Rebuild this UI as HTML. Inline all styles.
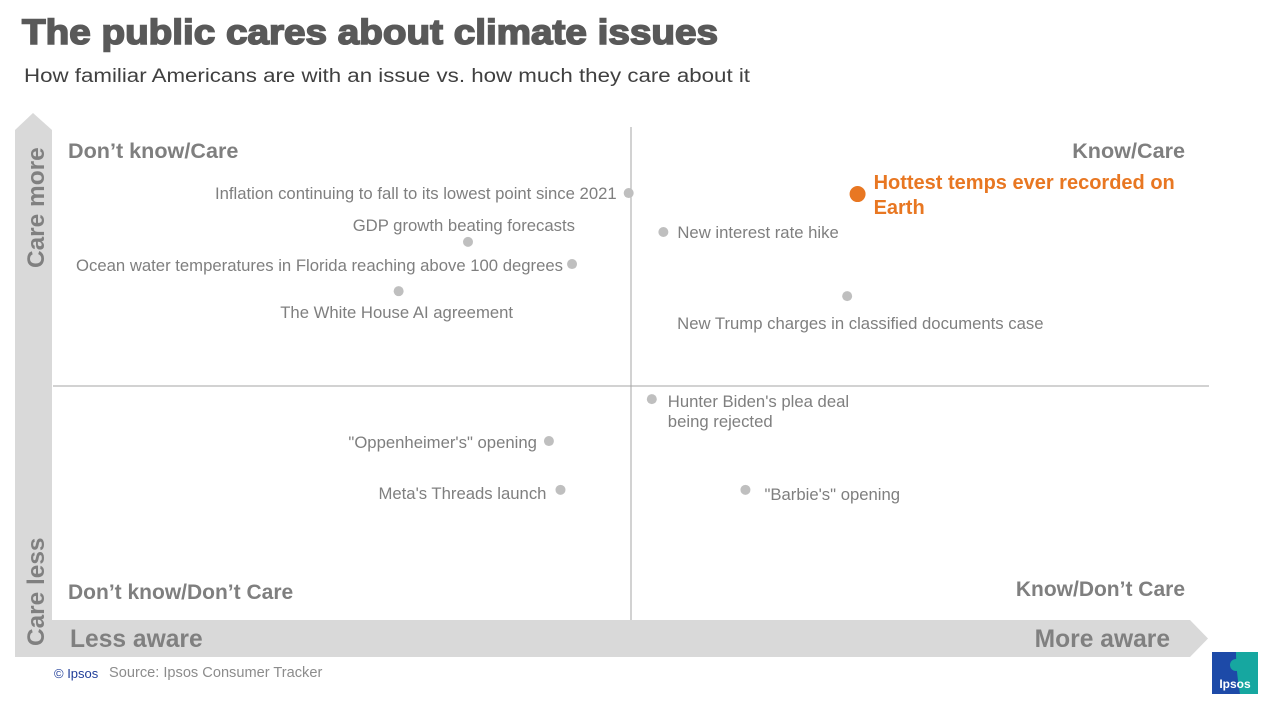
<!DOCTYPE html>
<html><head><meta charset="utf-8"><style>
body{margin:0;background:#fff;width:1276px;height:714px;overflow:hidden;font-family:"Liberation Sans",Arial,sans-serif}
svg{display:block}
text{font-family:"Liberation Sans",Arial,sans-serif}
</style></head><body>
<svg id="chart" width="1276" height="714" viewBox="0 0 1276 714">
<text x="22" y="44" font-size="35" font-weight="bold" fill="#595959" stroke="#595959" stroke-width="1.6" textLength="696" lengthAdjust="spacingAndGlyphs">The public cares about climate issues</text>
<text x="24" y="82" font-size="19" fill="#404040" textLength="726" lengthAdjust="spacingAndGlyphs">How familiar Americans are with an issue vs. how much they care about it</text>
<polygon points="15,130 33,113 52,130 52,657 15,657" fill="#d9d9d9"/>
<polygon points="52,620 1190,620 1208,638.5 1190,657 52,657" fill="#d9d9d9"/>
<text transform="translate(44,268) rotate(-90)" font-size="24.4" font-weight="bold" fill="#808080">Care more</text>
<text transform="translate(44,646) rotate(-90)" font-size="24.4" font-weight="bold" fill="#808080">Care less</text>
<text x="70" y="647" font-size="24.6" font-weight="bold" fill="#808080">Less aware</text>
<text x="1170" y="647" font-size="24.6" font-weight="bold" fill="#808080" text-anchor="end">More aware</text>
<line x1="631" y1="127" x2="631" y2="620" stroke="#a6a6a6" stroke-width="1"/>
<line x1="53" y1="386" x2="1209" y2="386" stroke="#a6a6a6" stroke-width="1"/>
<text x="68" y="158" font-size="21.6" font-weight="bold" fill="#7f7f7f">Don’t know/Care</text>
<text x="1185" y="158" font-size="21.6" font-weight="bold" fill="#7f7f7f" text-anchor="end">Know/Care</text>
<text x="68" y="599" font-size="21" font-weight="bold" fill="#7f7f7f">Don’t know/Don’t Care</text>
<text x="1185" y="596" font-size="21" font-weight="bold" fill="#7f7f7f" text-anchor="end">Know/Don’t Care</text>
<g id="points"></g>
<text x="54" y="678" font-size="13" fill="#1f3d99">© Ipsos</text>
<text x="109" y="677" font-size="14.6" fill="#8c8c8c">Source: Ipsos Consumer Tracker</text>
<g>
<rect x="1212" y="652" width="46" height="42" fill="#1d4aa8"/>
<path d="M1236 652 H1258 V694 H1240 Q1236 670 1236 652Z" fill="#16a7a0"/>
<circle cx="1236" cy="665" r="6" fill="#16a7a0"/>
<text x="1235" y="688" font-size="12" font-weight="bold" fill="#fff" text-anchor="middle">Ipsos</text>
</g>
</svg>
<script>
const labels=["Inflation continuing to fall to its lowest point since 2021","GDP growth beating forecasts","Ocean water temperatures in Florida reaching above 100 degrees","The White House AI agreement","Hottest temps ever recorded on|Earth","New interest rate hike","New Trump charges in classified documents case","Hunter Biden's plea deal|being rejected","\"Oppenheimer's\" opening","Meta's Threads launch","\"Barbie's\" opening"];
const awareness=[49.8,35.9,44.9,29.9,69.6,52.8,68.7,51.8,42.9,43.9,59.9];
const caring=[86.6,76.7,72.2,66.7,86.4,78.7,65.7,44.8,36.3,26.4,26.4];
const highlight=[0,0,0,0,1,0,0,0,0,0,0];
const labelPos=[["end",-12,6],["end",107,-11],["end",-9,7],["middle",-2,27],["start",16,-5],["start",14,6],["start",-170,33],["start",16,8],["end",-12,7],["end",-14,9],["start",19,10]];
const xs=v=>53+v*(1209-53)/100, ys=v=>620-v*(620-127)/100;
const g=document.getElementById('points'),NS="http://www.w3.org/2000/svg";
labels.forEach((lab,i)=>{
 const cx=xs(awareness[i]),cy=ys(caring[i]),hl=highlight[i];
 const c=document.createElementNS(NS,'circle');
 c.setAttribute('cx',cx);c.setAttribute('cy',cy);c.setAttribute('r',hl?8:5);
 c.setAttribute('fill',hl?'#e87722':'#bfbfbf');
 
 
 g.appendChild(c);
 const [a,dx,dy]=labelPos[i];
 const t=document.createElementNS(NS,'text');
 t.setAttribute('text-anchor',a);
 t.setAttribute('font-size',hl?20:16.7);
 if(hl)t.setAttribute('font-weight','bold');
 t.setAttribute('fill',hl?'#e87722':'#7f7f7f');
 lab.split('|').forEach((ln,k)=>{const s=document.createElementNS(NS,'tspan');s.setAttribute('x',cx+dx);s.setAttribute('y',cy+dy+k*(hl?25:20));s.textContent=ln;t.appendChild(s);});
 
 
 g.appendChild(t);
});
</script>
</body></html>
